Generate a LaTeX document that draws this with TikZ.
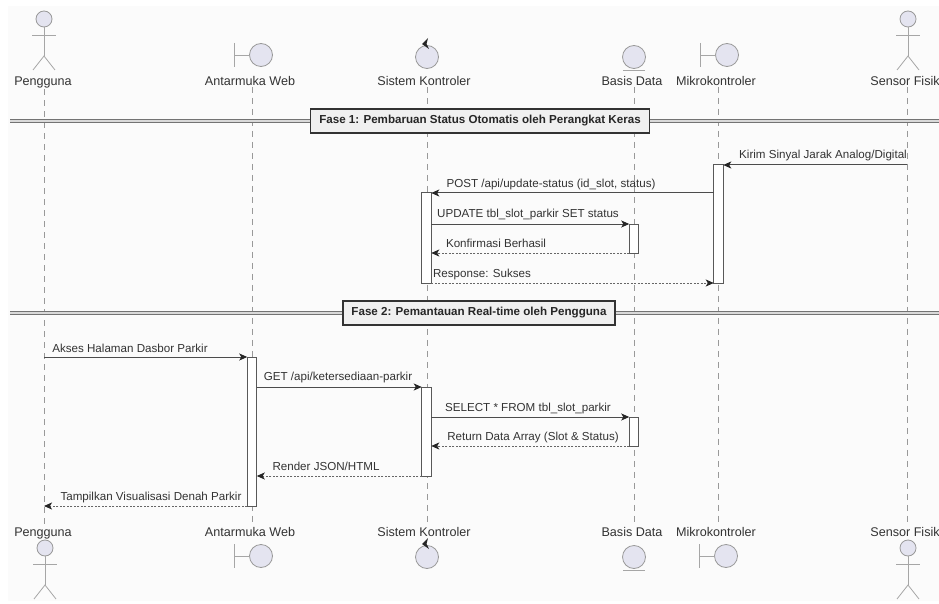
\documentclass[tikz,border=0pt]{standalone}
\usepackage{fontspec}
\setmainfont{Liberation Sans}
\usetikzlibrary{arrows.meta}

\tikzset{
  actorname/.style={anchor=base, inner sep=1pt, font=\fontsize{12.6}{15}\selectfont, text=black!80},
  msglabel/.style={inner sep=0pt, font=\fontsize{11.6}{14}\selectfont, text=black!80},
  phasebox/.style={draw=black!80, line width=1.4pt, fill=black!6, inner sep=0pt, minimum height=24pt, font=\bfseries\fontsize{11.6}{14}\selectfont, text=black!85},
  phaseline/.style={draw=black!55, double=black!15, double distance=1.2pt, line width=1pt},
  lifeline/.style={draw=black!40, dash pattern=on 6pt off 5pt, line width=0.7pt},
  actbar/.style={draw=black!65, fill=white, line width=1pt, minimum width=9.5pt, inner sep=0pt, outer sep=0pt},
  msgsolid/.style={draw=black!70, line width=1pt, -{Stealth[length=8pt,width=7pt,inset=2pt,black!85]}},
  msgdash/.style={draw=black!60, line width=1pt, dash pattern=on 2pt off 1.5pt, -{Stealth[length=8pt,width=7pt,inset=2pt,black!85]}},
  figure/.style={draw=black!40, fill=figfill, line width=0.8pt},
  stick/.style={draw=black!35, line width=0.8pt}
}

\begin{document}
\begin{tikzpicture}[x=1pt, y=-1pt]
  % Define colors
  \definecolor{figfill}{RGB}{228, 228, 240}
  \definecolor{paper}{RGB}{251, 251, 251}

  \useasboundingbox (0, 0) rectangle (939, 604);
  \fill[white] (0, 0) rectangle (939, 604);
  \fill[paper] (8, 6) rectangle (939, 601);

  % Names at the top
  \node[actorname] (penggunaTop) at (43, 85.5) {Pengguna};
  \node[actorname] (webTop) at (250, 85.5) {Antarmuka Web};
  \node[actorname] (sistemTop) at (424, 85.5) {Sistem Kontroler};
  \node[actorname] (basisTop) at (632, 85.5) {Basis Data};
  \node[actorname] (mikroTop) at (716, 85.5) {Mikrokontroler};
  \node[actorname] (sensorTop) at (905, 85.5) {Sensor Fisik};

  % Names at the bottom
  \node[actorname] (penggunaBot) at (43, 536.5) {Pengguna};
  \node[actorname] (webBot) at (250, 536.5) {Antarmuka Web};
  \node[actorname] (sistemBot) at (424, 536.5) {Sistem Kontroler};
  \node[actorname] (basisBot) at (632, 536.5) {Basis Data};
  \node[actorname] (mikroBot) at (716, 536.5) {Mikrokontroler};
  \node[actorname] (sensorBot) at (905, 536.5) {Sensor Fisik};

  % Lifelines
  \draw[lifeline] ([xshift=1pt]penggunaTop.south) -- ([xshift=1pt]penggunaBot.north);
  \draw[lifeline] ([xshift=2pt]webTop.south) -- ([xshift=2pt]webBot.north);
  \draw[lifeline] ([xshift=3pt]sistemTop.south) -- ([xshift=3pt]sistemBot.north);
  \draw[lifeline] ([xshift=2pt]basisTop.south) -- ([xshift=2pt]basisBot.north);
  \draw[lifeline] ([xshift=2pt]mikroTop.south) -- ([xshift=2pt]mikroBot.north);
  \draw[lifeline] ([xshift=2pt]sensorTop.south) -- ([xshift=2pt]sensorBot.north);

  % Stick figures
  \foreach \x/\y in {44/19, 908/19, 45/548, 908/548} {
    \draw[figure] (\x, \y) circle (8);
    \draw[stick] (\x, \y+8) -- (\x, \y+37);
    \draw[stick] (\x-12, \y+16) -- (\x+12, \y+16);
    \draw[stick] (\x-11, \y+51) -- (\x, \y+37) -- (\x+11, \y+51);
  }

  % Boundary figures
  \foreach \x/\y in {261/55, 727/55, 261/556, 726/556} {
    \draw[figure] (\x, \y) circle (11.5);
    \draw[stick] (\x-27, \y) -- (\x-11.5, \y);
    \draw[stick] (\x-27, \y-12) -- (\x-27, \y+12);
  }

  % Control figures
  \foreach \y in {57, 557} {
    \draw[figure] (427, \y) circle (11.5);
    \fill[black!85] (422, \y-13) -- (428, \y-19) -- (426.5, \y-13) -- (429, \y-8) -- cycle;
  }

  % Entity figures
  \foreach \y in {57, 557} {
    \draw[figure] (634, \y) circle (11.5);
    \draw[stick] (623, \y+13) -- (645, \y+13);
  }

  % Phase 1
  \node[phasebox, minimum width=339pt] (phaseOne) at (480, 121) {Fase 1: Pembaruan Status Otomatis oleh Perangkat Keras};
  \coordinate (phaseOneL) at (10, 121);
  \coordinate (phaseOneR) at (939, 121);
  \draw[phaseline] (phaseOneL) -- (phaseOne);
  \draw[phaseline] (phaseOne) -- (phaseOneR);

  % Phase 2
  \node[phasebox, minimum width=272pt] (phaseTwo) at (479, 313) {Fase 2: Pemantauan Real-time oleh Pengguna};
  \coordinate (phaseTwoL) at (10, 313);
  \coordinate (phaseTwoR) at (939, 313);
  \draw[phaseline] (phaseTwoL) -- (phaseTwo);
  \draw[phaseline] (phaseTwo) -- (phaseTwoR);

  % Activation bars
  \node[actbar, minimum height=118pt] (barMikro) at (718.5, 224) {};
  \node[actbar, minimum height=90pt] (barSistemA) at (426.5, 238) {};
  \node[actbar, minimum height=29pt] (barBasisA) at (634, 238.5) {};
  \node[actbar, minimum height=149pt] (barWeb) at (252, 431.5) {};
  \node[actbar, minimum height=89pt] (barSistemB) at (426.5, 431.5) {};
  \node[actbar, minimum height=29pt] (barBasisB) at (634, 431.5) {};

  % Messages of phase 1
  \draw[msgsolid] ([xshift=2pt]sensorTop.south |- barMikro.north) -- (barMikro.north east);
  \draw[msgsolid] (barMikro.west |- barSistemA.north) -- (barSistemA.north east);
  \draw[msgsolid] (barSistemA.east |- barBasisA.north) -- (barBasisA.north west);
  \draw[msgdash] (barBasisA.south west) -- (barSistemA.east |- barBasisA.south);
  \draw[msgdash] (barSistemA.south east) -- (barMikro.south west);
  \node[msglabel] (kirimText) at (823, 156) {Kirim Sinyal Jarak Analog/Digital};
  \node[msglabel] (postText) at (551, 185) {POST /api/update-status (id\_slot, status)};
  \node[msglabel] (updateText) at (528, 215) {UPDATE tbl\_slot\_parkir SET status};
  \node[msglabel] (konfirmasiText) at (496, 243) {Konfirmasi Berhasil};
  \node[msglabel] (responseText) at (482, 274) {Response: Sukses};

  % Messages of phase 2
  \draw[msgsolid] ([xshift=1pt]penggunaTop.south |- barWeb.north) -- (barWeb.north west);
  \draw[msgsolid] (barWeb.east |- barSistemB.north) -- (barSistemB.north west);
  \draw[msgsolid] (barSistemB.east |- barBasisB.north) -- (barBasisB.north west);
  \draw[msgdash] (barBasisB.south west) -- (barSistemB.east |- barBasisB.south);
  \draw[msgdash] (barSistemB.south west) -- (barWeb.east |- barSistemB.south);
  \draw[msgdash] (barWeb.south west) -- ([xshift=1pt]penggunaTop.south |- barWeb.south);
  \node[msglabel] (aksesText) at (130, 348) {Akses Halaman Dasbor Parkir};
  \node[msglabel] (getText) at (338, 377) {GET /api/ketersediaan-parkir};
  \node[msglabel] (selectText) at (528, 408) {SELECT * FROM tbl\_slot\_parkir};
  \node[msglabel] (returnText) at (533, 437) {Return Data Array (Slot \& Status)};
  \node[msglabel] (renderText) at (326, 466) {Render JSON/HTML};
  \node[msglabel] (tampilkanText) at (151, 497) {Tampilkan Visualisasi Denah Parkir};
\end{tikzpicture}
\end{document}
